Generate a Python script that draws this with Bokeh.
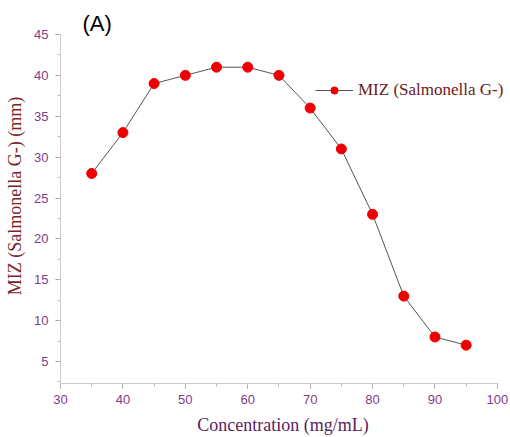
from bokeh.plotting import figure
from bokeh.models import Range1d, Legend, LegendItem, Label, SingleIntervalTicker
from bokeh.embed import file_html
from bokeh.resources import INLINE

concentration = [35, 40, 45, 50, 55, 60, 65, 70, 75, 80, 85, 90, 95]
miz = [28, 33, 39, 40, 41, 41, 40, 36, 31, 23, 13, 8, 7]
series_name = "MIZ (Salmonella G-)"

p = figure(width=510, height=437, output_backend="svg", toolbar_location=None,
           x_range=Range1d(30, 101.3), y_range=Range1d(2.31, 48.18),
           min_border_left=60, min_border_right=5, min_border_top=8, min_border_bottom=54)
p.outline_line_color = None
p.xgrid.visible = False
p.ygrid.visible = False
p.background_fill_color = "white"
p.border_fill_color = "white"

line = p.line(concentration, miz, line_color="#555555", line_width=1)
pts = p.scatter(concentration, miz, size=10, fill_color="#ee0000", line_color="#ee0000")

p.xaxis.ticker = SingleIntervalTicker(interval=10, num_minor_ticks=2)
p.yaxis.ticker = SingleIntervalTicker(interval=5, num_minor_ticks=2)
p.xaxis.bounds = (30, 100)
p.yaxis.bounds = (2.31, 45)

for ax in (p.xaxis[0], p.yaxis[0]):
    ax.axis_line_color = "#cccccc"
    ax.major_tick_line_color = "#999999"
    ax.minor_tick_line_color = "#bbbbbb"
    ax.major_tick_out = 5
    ax.major_tick_in = 0
    ax.minor_tick_out = 3
    ax.minor_tick_in = 0
    ax.major_label_text_font = "Liberation Sans"
    ax.major_label_text_font_size = "13px"
    ax.major_label_text_color = "#7d3c8c"
    ax.axis_label_text_font = "Liberation Serif"
    ax.axis_label_text_font_size = "18px"
    ax.axis_label_text_font_style = "normal"

p.xaxis.axis_label = "Concentration (mg/mL)"
p.xaxis.axis_label_text_color = "#5a1f5c"
p.xaxis.major_label_standoff = 6
p.xaxis.axis_label_standoff = 8
p.yaxis.axis_label = "MIZ (Salmonella G-) (mm)"
p.yaxis.axis_label_text_color = "#7a2428"
p.yaxis.major_label_standoff = 7
p.yaxis.axis_label_standoff = 6

legend = Legend(items=[LegendItem(label=series_name, renderers=[line, pts])],
                location=(255, 283), padding=0, spacing=0, margin=0,
                border_line_color=None, background_fill_alpha=0,
                glyph_width=38, glyph_height=18, label_standoff=5,
                label_text_font="Liberation Serif", label_text_font_size="17px",
                label_text_color="#6b1a1a")
p.add_layout(legend, "center")

p.add_layout(Label(x=22, y=360, x_units="screen", y_units="screen", text="(A)",
                   text_font="Liberation Sans", text_font_size="22px",
                   text_color="black", text_baseline="middle", text_align="left"))

open("out.html", "w").write(file_html(p, INLINE))
